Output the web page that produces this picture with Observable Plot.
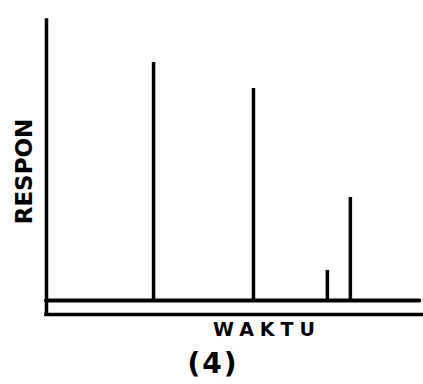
<!DOCTYPE html>
<html><head><meta charset="utf-8">
<script src="https://cdn.jsdelivr.net/npm/d3@7"></script>
<script src="https://cdn.jsdelivr.net/npm/@observablehq/plot@0.6"></script>
<style>body{margin:0;background:#fff}</style>
</head><body><div id="chart"></div>
<script>
const peakTimes = [28.4, 54.9, 74.5, 80.6];
const peakResponses = [85, 75.7, 10.7, 36.8];
const yLabel = "RESPON";
const xLabel = "WAKTU";
const caption = "(4)";
const baselineEnd = 99;

const peaks = peakTimes.map((t, i) => ({waktu: t, respon: peakResponses[i]}));
const font = "'DejaVu Sans', sans-serif";

const chart = Plot.plot({
  width: 423, height: 384,
  marginTop: 20, marginBottom: 70, marginLeft: 46, marginRight: 0,
  x: {domain: [0, 100], axis: null},
  y: {domain: [-5, 100], axis: null},
  style: {background: "white", color: "black"},
  marks: [
    Plot.ruleX([0], {strokeWidth: 3.5, strokeLinecap: "square"}),
    Plot.ruleY([-5], {strokeWidth: 3.5, strokeLinecap: "square"}),
    Plot.ruleY([0], {x1: 0, x2: baselineEnd, strokeWidth: 4, strokeLinecap: "round"}),
    Plot.ruleX(peaks, {x: "waktu", y1: 0, y2: "respon", strokeWidth: 3.5}),
    Plot.text([yLabel], {frameAnchor: "left", dx: -22, dy: 4, rotate: -90, textAnchor: "middle", lineAnchor: "middle",
      fontSize: 23, fontWeight: "bold", fontFamily: font, fill: "black"}),
    Plot.text([xLabel], {frameAnchor: "bottom", dx: 32, dy: 15, textAnchor: "middle", lineAnchor: "middle",
      fontSize: 19, fontWeight: "bold", fontFamily: font, fill: "black"}),
    Plot.text([caption], {frameAnchor: "bottom", dx: -22, dy: 50, textAnchor: "middle", lineAnchor: "middle",
      fontSize: 28, fontWeight: "bold", fontFamily: font, fill: "black"})
  ]
});
// letter spacing for the hand-lettered labels
d3.select(chart).selectAll("text").each(function() {
  const t = this.textContent;
  if (t === xLabel) this.setAttribute("letter-spacing", "6");
  if (t === caption) this.setAttribute("letter-spacing", "2");
});
document.getElementById("chart").append(chart);
</script>
</body></html>
